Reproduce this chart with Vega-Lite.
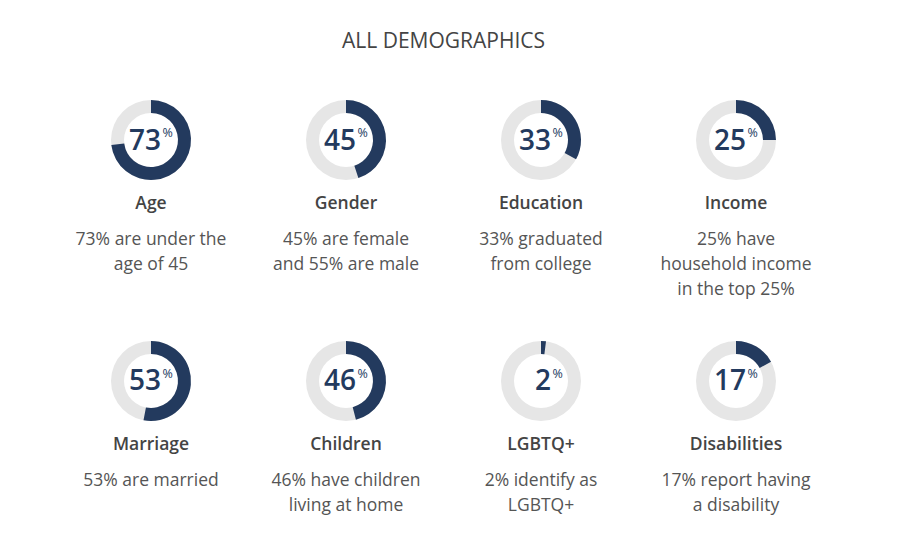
{
  "$schema": "https://vega.github.io/schema/vega-lite/v6.json",
  "width": 780,
  "height": 381,
  "autosize": {"type": "none"},
  "padding": {"left": 53.5, "top": 70, "right": 67.5, "bottom": 103},
  "background": "white",
  "title": {"text": "ALL DEMOGRAPHICS", "font": "Open Sans", "fontSize": 21, "fontWeight": "normal", "color": "#444444", "anchor": "middle", "offset": 18},
  "config": {"view": {"stroke": null}},
  "data": {"values": [
    {"label": "Age", "pct": 73, "col": 0, "row": 0, "desc": "73% are under the\nage of 45"},
    {"label": "Gender", "pct": 45, "col": 1, "row": 0, "desc": "45% are female\nand 55% are male"},
    {"label": "Education", "pct": 33, "col": 2, "row": 0, "desc": "33% graduated\nfrom college"},
    {"label": "Income", "pct": 25, "col": 3, "row": 0, "desc": "25% have\nhousehold income\nin the top 25%"},
    {"label": "Marriage", "pct": 53, "col": 0, "row": 1, "desc": "53% are married"},
    {"label": "Children", "pct": 46, "col": 1, "row": 1, "desc": "46% have children\nliving at home"},
    {"label": "LGBTQ+", "pct": 2, "col": 2, "row": 1, "desc": "2% identify as\nLGBTQ+"},
    {"label": "Disabilities", "pct": 17, "col": 3, "row": 1, "desc": "17% report having\na disability"}
  ]},
  "encoding": {
    "x": {"field": "col", "type": "ordinal", "scale": {"type": "point", "padding": 0.5}, "axis": null},
    "y": {"field": "row", "type": "ordinal", "scale": {"type": "point", "padding": 0.2905}, "axis": null}
  },
  "layer": [
    {"mark": {"type": "arc", "theta": 0, "theta2": 6.2832, "innerRadius": 27, "outerRadius": 40, "fill": "#e6e6e6"}},
    {"mark": {"type": "arc", "innerRadius": 27, "outerRadius": 40, "fill": "#233a5e"},
     "encoding": {"theta": {"field": "pct", "type": "quantitative", "stack": null, "scale": {"domain": [0, 100], "range": [0, 6.283185]}}}},
    {"mark": {"type": "text", "font": "Open Sans", "fontSize": 28, "fontWeight": 600, "fill": "#233a5e", "align": "right", "baseline": "alphabetic", "dx": 10, "dy": 9.5},
     "encoding": {"text": {"field": "pct", "type": "nominal"}}},
    {"mark": {"type": "text", "text": "%", "font": "Open Sans", "fontSize": 12.5, "fill": "#233a5e", "align": "left", "baseline": "alphabetic", "dx": 11.5, "dy": -3.3}},
    {"mark": {"type": "text", "font": "Open Sans", "fontSize": 17.5, "fontWeight": 600, "fill": "#444444", "align": "center", "baseline": "alphabetic", "dy": 69},
     "encoding": {"text": {"field": "label", "type": "nominal"}}},
    {"mark": {"type": "text", "font": "Open Sans", "fontSize": 17.5, "fill": "#555555", "align": "center", "baseline": "alphabetic", "dy": 105, "lineBreak": "\n", "lineHeight": 25},
     "encoding": {"text": {"field": "desc", "type": "nominal"}}}
  ]
}
